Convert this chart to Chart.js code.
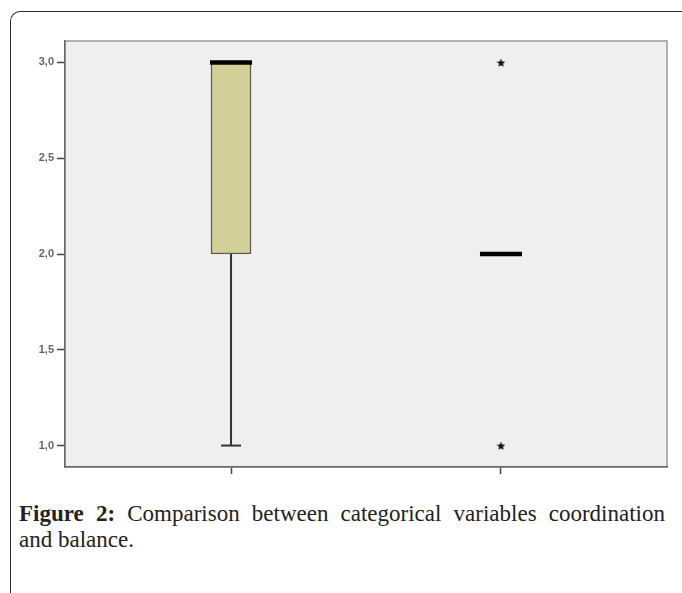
<!DOCTYPE html>
<html>
<head>
<meta charset="utf-8">
<script src="https://cdn.jsdelivr.net/npm/chart.js@4"></script>
<style>
  html, body { margin: 0; padding: 0; background: #fff; }
  body { width: 682px; height: 593px; position: relative; overflow: hidden; }
  .frame {
    position: absolute; left: 10px; top: 11px; width: 720px; height: 640px;
    border-top: 1.5px solid #2a2a2a; border-left: 1.5px solid #2a2a2a;
    border-top-left-radius: 10px;
  }
  .chart-box { position: absolute; left: 0; top: 0; width: 682px; height: 500px; }
  .caption {
    position: absolute; left: 19px; right: 17px; top: 501px;
    font-family: "Liberation Serif", serif; font-size: 23px; line-height: 26px;
    color: #222;
  }
  .caption .first { text-align: justify; text-align-last: justify; white-space: nowrap; }
  .caption b { font-weight: bold; }
</style>
</head>
<body>
<div class="frame"></div>
<div class="chart-box"><canvas id="box-chart" width="682" height="500"></canvas></div>
<div class="caption">
  <div class="first"><b>Figure 2:</b> Comparison between categorical variables coordination</div>
  <div>and balance.</div>
</div>

<script>
// two groups, placed at x = 1 and x = 2
const groups = ["Coordination", "Balance"];
const positions = [1, 2];
const q1 = [2, 2];
const q3 = [3, 2];
const medians = [3, 2];
const whiskerLow = [1, 2];
const whiskerHigh = [2, 2];
const outliers = [[], [3, 1]];
const yTicks = [1, 1.5, 2, 2.5, 3];

// small filled star for extreme values
function makeStar(size) {
  const c = document.createElement("canvas");
  c.width = size; c.height = size;
  const ctx = c.getContext("2d");
  const r = size / 2, ri = r * 0.45;
  ctx.beginPath();
  for (let i = 0; i < 10; i++) {
    const rad = i % 2 === 0 ? r : ri;
    const a = -Math.PI / 2 + i * Math.PI / 5;
    const px = r + rad * Math.cos(a), py = r + 0.6 + rad * Math.sin(a);
    i === 0 ? ctx.moveTo(px, py) : ctx.lineTo(px, py);
  }
  ctx.closePath();
  ctx.fillStyle = "#111";
  ctx.fill();
  return c;
}
const star = makeStar(9);

const boxData = positions.map((x, i) => ({ x: x, y: [q1[i], q3[i]] }));
const medianData = positions.map((x, i) => ({ x: x, y: medians[i] }));
const whiskerSets = positions
  .map((x, i) => ({ x: x, lo: whiskerLow[i], hi: whiskerHigh[i] }))
  .filter(w => w.lo !== w.hi);
const outlierData = [];
positions.forEach((x, i) => outliers[i].forEach(v => outlierData.push({ x: x, y: v })));

const datasets = [{
  type: "bar",
  label: "box",
  data: boxData,
  backgroundColor: "#d3cf98",
  borderColor: "#5c5b4c",
  borderWidth: 1.5,
  borderSkipped: false,
  barThickness: 40,
  order: 4,
}];
whiskerSets.forEach(w => {
  datasets.push({
    type: "scatter",
    label: "whisker",
    data: [{ x: w.x, y: w.hi }, { x: w.x, y: w.lo }],
    showLine: true,
    borderColor: "#333",
    borderWidth: 2,
    pointRadius: 0,
    order: 3,
  });
  datasets.push({
    type: "scatter",
    label: "cap",
    data: [{ x: w.x, y: w.lo }],
    pointStyle: "line",
    pointRadius: 10,
    borderColor: "#333",
    borderWidth: 2,
    order: 2,
  });
});
datasets.push({
  type: "scatter",
  label: "median",
  data: medianData,
  pointStyle: "line",
  pointRadius: 21,
  borderColor: "#000",
  borderWidth: 4.5,
  order: 1,
});
datasets.push({
  type: "scatter",
  label: "extremes",
  data: outlierData,
  pointStyle: star,
  order: 0,
});

const plotBackground = {
  id: "plotBackground",
  beforeDraw(chart) {
    const { ctx, chartArea: a } = chart;
    ctx.save();
    ctx.fillStyle = "#efefef";
    ctx.fillRect(a.left, a.top, a.right - a.left, a.bottom - a.top);
    ctx.strokeStyle = "#9a9a9a";
    ctx.lineWidth = 1.5;
    ctx.strokeRect(a.left, a.top, a.right - a.left, a.bottom - a.top);
    ctx.restore();
  },
};

new Chart(document.getElementById("box-chart"), {
  type: "bar",
  data: { datasets: datasets },
  options: {
    responsive: false,
    animation: false,
    events: [],
    layout: { autoPadding: false, padding: { top: 41, right: 15, bottom: 13, left: 0 } },
    plugins: { legend: { display: false }, tooltip: { enabled: false } },
    scales: {
      x: {
        type: "linear",
        min: 0.385,
        max: 2.615,
        offset: false,
        afterBuildTicks: s => { s.ticks = positions.map(v => ({ value: v })); },
        afterFit: s => { s.height = 20; },
        ticks: { callback: () => "", padding: 0 },
        grid: { offset: false, drawOnChartArea: false, tickLength: 7, tickColor: "#444", tickWidth: 1.5 },
        border: { color: "#6a6a6a", width: 1.5 },
      },
      y: {
        type: "linear",
        min: 0.888,
        max: 3.112,
        afterBuildTicks: s => { s.ticks = yTicks.map(v => ({ value: v })); },
        afterFit: s => { s.width = 65; },
        ticks: {
          padding: 3,
          color: "#666",
          font: { family: "Liberation Sans", size: 11, weight: "bold" },
          callback: v => v.toFixed(1).replace(".", ","),
        },
        grid: { drawOnChartArea: false, tickLength: 8, tickColor: "#444", tickWidth: 1.5 },
        border: { color: "#6a6a6a", width: 1.5 },
      },
    },
  },
  plugins: [plotBackground],
});
</script>
</body>
</html>
